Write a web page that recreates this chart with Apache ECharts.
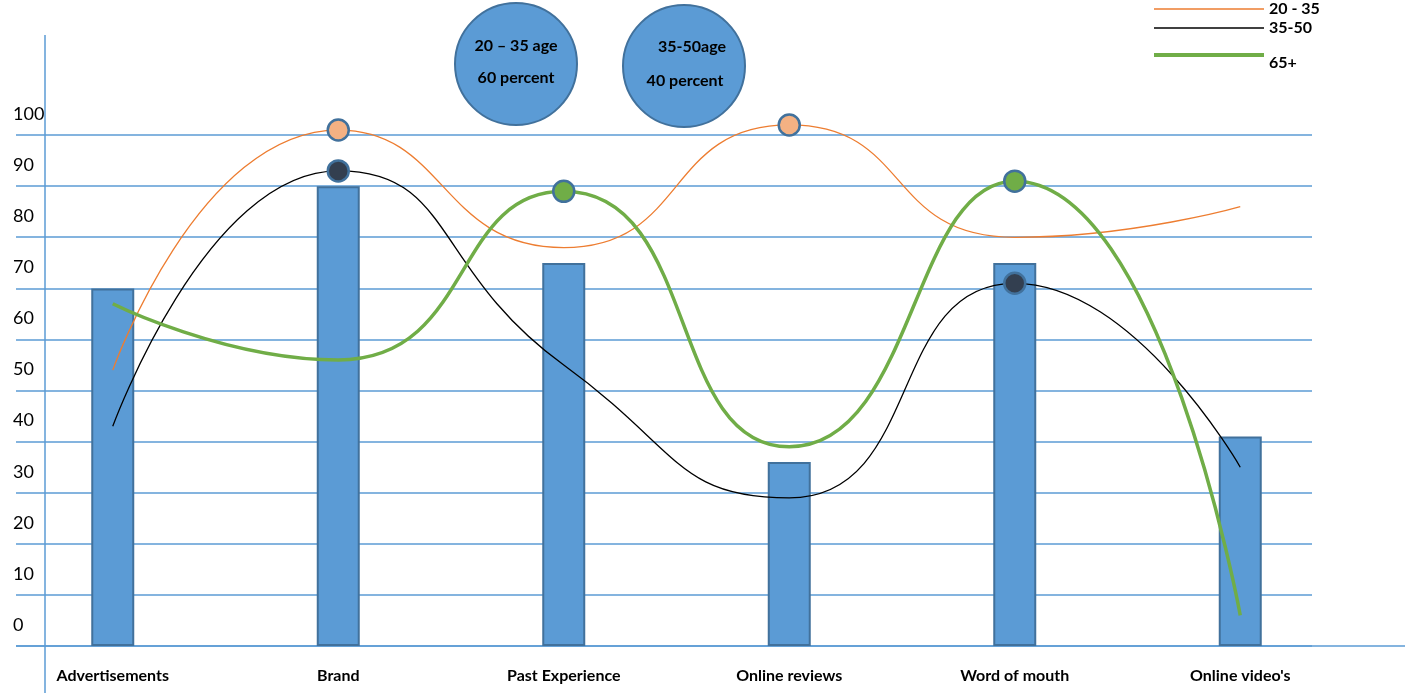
<!DOCTYPE html>
<html>
<head>
<meta charset="utf-8">
<script src="https://cdn.jsdelivr.net/npm/echarts@6/dist/echarts.min.js"></script>
<style>
html,body{margin:0;padding:0;background:#fff;}
#chart{width:1409px;height:697px;}
</style>
</head>
<body>
<div id="chart"></div>
<script>
// ---- data ----
const categories = ['Advertisements', 'Brand', 'Past Experience', 'Online reviews', 'Word of mouth', "Online video's"];
const barValues = [70, 90, 75, 36, 75, 41];
const age20to35 = [54, 101, 78, 102, 80, 86];
const age35to50 = [43, 93, 55, 29, 71, 35];
const age65plus = [67, 56, 89, 39, 91, 6];
// indices of highlighted points
const marks20to35 = [1, 3];
const marks35to50 = [1, 4];
const marks65plus = [2, 4];
const seriesNames = ['20 - 35', '35-50', '65+'];
const yTicks = [0, 100, 10]; // min, max, interval
const bubbles = [['20 – 35 age', '60 percent'], ['35-50age', '40 percent']];

const BLUE = '#5b9bd5';
const DARK = '#41719c';
const FONT = 'Lato, Carlito, "Open Sans", sans-serif';

function withMarks(values, idxs, fill) {
  return values.map((v, i) => idxs.indexOf(i) >= 0 ? {
    value: v, symbol: 'circle', symbolSize: 21,
    itemStyle: { color: fill, borderColor: DARK, borderWidth: 2.5 }
  } : v);
}

const chart = echarts.init(document.getElementById('chart'), null, { renderer: 'canvas' });

const option = {
  backgroundColor: '#fff',
  animation: false,
  textStyle: { fontFamily: FONT },
  legend: {
    orient: 'vertical',
    left: 1147,
    top: -4,
    itemWidth: 110,
    itemHeight: 10,
    itemGap: 3,
    itemStyle: { opacity: 0 },
    textStyle: { fontFamily: FONT, fontWeight: 'bold', fontSize: 16, color: '#000' },
    formatter: function (name) { return name === '65+' ? '\n65+' : name; },
    data: [
      { name: seriesNames[0], lineStyle: { width: 1.3 } },
      { name: seriesNames[1], lineStyle: { width: 1.3 } },
      { name: seriesNames[2], lineStyle: { width: 4 } }
    ]
  },
  grid: [
    { left: -2, right: 56, top: 33, bottom: 51 },
    { left: 16, right: 97, top: 135, bottom: 51 }
  ],
  xAxis: [
    {
      type: 'category', gridIndex: 0, data: categories,
      axisLine: { show: false }, axisTick: { show: false },
      axisLabel: { margin: 22, fontFamily: FONT, fontWeight: 'bold', fontSize: 16, color: '#000' }
    },
    { type: 'value', gridIndex: 1, show: false, min: 0, max: 1 }
  ],
  yAxis: [
    { type: 'value', gridIndex: 0, min: 0, max: 120, show: false },
    {
      type: 'value', gridIndex: 1, min: yTicks[0], max: yTicks[1], interval: yTicks[2],
      axisLine: { show: false }, axisTick: { show: false },
      splitLine: { show: true, lineStyle: { color: BLUE, width: 1.5 } },
      axisLabel: {
        margin: 3, align: 'left', verticalAlign: 'bottom', padding: [0, 0, 12, 0],
        fontFamily: FONT, fontSize: 18, color: '#000'
      }
    }
  ],
  series: [
    {
      type: 'bar', name: 'Bars', xAxisIndex: 0, yAxisIndex: 0,
      data: barValues, barWidth: 43,
      itemStyle: { color: BLUE, borderColor: DARK, borderWidth: 2 },
      z: 2
    },
    {
      type: 'line', name: seriesNames[0], xAxisIndex: 0, yAxisIndex: 0,
      smooth: 0.55, symbol: 'none',
      data: withMarks(age20to35, marks20to35, '#f4b183'),
      lineStyle: { color: '#ed7d31', width: 1.3 },
      itemStyle: { color: '#ed7d31' },
      z: 3
    },
    {
      type: 'line', name: seriesNames[1], xAxisIndex: 0, yAxisIndex: 0,
      smooth: 0.55, symbol: 'none',
      data: withMarks(age35to50, marks35to50, '#333f50'),
      lineStyle: { color: '#000', width: 1.3 },
      itemStyle: { color: '#000' },
      z: 4
    },
    {
      type: 'line', name: seriesNames[2], xAxisIndex: 0, yAxisIndex: 0,
      smooth: 0.55, symbol: 'none',
      data: withMarks(age65plus, marks65plus, '#70ad47'),
      lineStyle: { color: '#70ad47', width: 3.5 },
      itemStyle: { color: '#70ad47' },
      z: 5
    }
  ],
  graphic: [
    { type: 'line', shape: { x1: 45, y1: 35, x2: 45, y2: 693 }, style: { stroke: BLUE, lineWidth: 1.5 }, z: 1 },
    { type: 'line', shape: { x1: 16, y1: 646, x2: 1405, y2: 646 }, style: { stroke: BLUE, lineWidth: 1.5 }, z: 1 },
    { type: 'circle', shape: { cx: 516, cy: 64, r: 61 }, style: { fill: BLUE, stroke: DARK, lineWidth: 2 }, z: 10 },
    { type: 'circle', shape: { cx: 684, cy: 66, r: 61 }, style: { fill: BLUE, stroke: DARK, lineWidth: 2 }, z: 10 },
    { type: 'text', x: 516, y: 46, style: { text: bubbles[0][0], fill: '#000', font: 'bold 16px ' + FONT, textAlign: 'center', textVerticalAlign: 'middle' }, z: 11 },
    { type: 'text', x: 516, y: 78, style: { text: bubbles[0][1], fill: '#000', font: 'bold 16px ' + FONT, textAlign: 'center', textVerticalAlign: 'middle' }, z: 11 },
    { type: 'text', x: 692, y: 47, style: { text: bubbles[1][0], fill: '#000', font: 'bold 16px ' + FONT, textAlign: 'center', textVerticalAlign: 'middle' }, z: 11 },
    { type: 'text', x: 685, y: 81, style: { text: bubbles[1][1], fill: '#000', font: 'bold 16px ' + FONT, textAlign: 'center', textVerticalAlign: 'middle' }, z: 11 }
  ]
};

chart.setOption(option);
</script>
</body>
</html>
